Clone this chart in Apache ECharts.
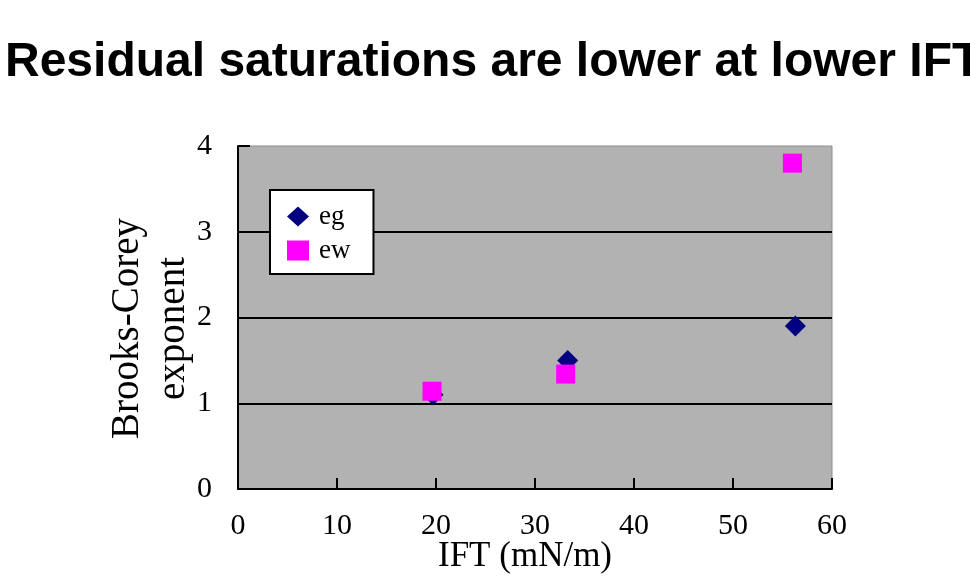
<!DOCTYPE html>
<html>
<head>
<meta charset="utf-8">
<script src="https://cdn.jsdelivr.net/npm/echarts@6/dist/echarts.min.js"></script>
<style>
  html, body { margin: 0; padding: 0; background: #fff; }
  #chart { width: 970px; height: 581px; }
</style>
</head>
<body>
<div id="chart"></div>
<script>
// Brooks-Corey exponents versus interfacial tension
const egPoints = [[19.7, 1.10], [33.3, 1.50], [56.3, 1.90]];
const ewPoints = [[19.6, 1.14], [33.1, 1.34], [56.0, 3.80]];
const xTicks = [0, 10, 20, 30, 40, 50, 60];
const yTicks = [0, 1, 2, 3, 4];

const serif = '"Liberation Serif", "DejaVu Serif", serif';
const chart = echarts.init(document.getElementById('chart'));

chart.setOption({
  animation: false,
  title: {
    text: 'Residual saturations are lower at lower IFT',
    left: 0,
    top: 34,
    textStyle: {
      fontFamily: '"Liberation Sans", Arial, sans-serif',
      fontWeight: 'bold',
      fontSize: 48,
      color: '#000'
    }
  },
  grid: {
    left: 238,
    top: 146,
    width: 594,
    height: 343,
    outerBoundsMode: 'none',
    show: true,
    backgroundColor: '#b2b2b2',
    borderColor: '#8c8c8c',
    borderWidth: 1
  },
  legend: {
    left: 270,
    top: 190,
    orient: 'vertical',
    backgroundColor: '#fff',
    borderColor: '#000',
    borderWidth: 2,
    padding: [13, 23, 10, 17],
    itemGap: 7,
    itemWidth: 22,
    itemHeight: 20,
    textStyle: {
      fontFamily: serif,
      fontSize: 27,
      lineHeight: 20,
      color: '#000',
      padding: [0, 0, 0, 5]
    },
    data: [
      { name: 'eg', icon: 'diamond' },
      { name: 'ew', icon: 'rect' }
    ]
  },
  xAxis: {
    type: 'value',
    min: xTicks[0],
    max: xTicks[xTicks.length - 1],
    interval: 10,
    name: 'IFT (mN/m)',
    nameLocation: 'middle',
    nameGap: 50,
    nameMoveOverlap: false,
    nameTextStyle: { fontFamily: serif, fontSize: 35, color: '#000', padding: [0, 20, 0, 0] },
    axisLine: { lineStyle: { color: '#000', width: 2 } },
    axisTick: { inside: true, length: 11, lineStyle: { color: '#000', width: 2 } },
    axisLabel: { fontFamily: serif, fontSize: 30, color: '#000', margin: 22 },
    splitLine: { show: false }
  },
  yAxis: {
    type: 'value',
    min: yTicks[0],
    max: yTicks[yTicks.length - 1],
    interval: 1,
    name: 'Brooks-Corey\nexponent',
    nameLocation: 'middle',
    nameRotate: 90,
    nameGap: 41,
    nameMoveOverlap: false,
    nameTextStyle: {
      fontFamily: serif,
      fontSize: 39,
      color: '#000',
      lineHeight: 46,
      padding: [0, 22, 0, 0]
    },
    axisLine: { lineStyle: { color: '#000', width: 2 } },
    axisTick: { inside: true, length: 12, lineStyle: { color: '#000', width: 2 } },
    axisLabel: { fontFamily: serif, fontSize: 30, color: '#000', margin: 26 },
    splitLine: {
      show: true,
      lineStyle: { color: '#000', width: 2 },
      showMaxLine: false,
      showMinLine: false
    }
  },
  series: [
    {
      name: 'eg',
      type: 'scatter',
      symbol: 'diamond',
      symbolSize: 21,
      itemStyle: { color: '#000080', opacity: 1 },
      data: egPoints,
      z: 2
    },
    {
      name: 'ew',
      type: 'scatter',
      symbol: 'rect',
      symbolSize: 19,
      itemStyle: { color: '#ff00ff', opacity: 1 },
      data: ewPoints,
      z: 3
    }
  ]
});
</script>
</body>
</html>
